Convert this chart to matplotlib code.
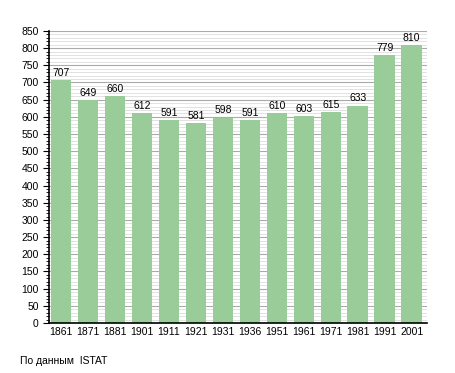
import numpy as np
import matplotlib.pyplot as plt

plt.rcParams['font.family'] = ['Liberation Sans', 'DejaVu Sans']

years = ['1861', '1871', '1881', '1901', '1911', '1921', '1931',
         '1936', '1951', '1961', '1971', '1981', '1991', '2001']
abitanti = [707, 649, 660, 612, 591, 581, 598, 591, 610, 603, 615, 633, 779, 810]

fig = plt.figure(figsize=(4.55, 3.73), dpi=100)
ax = fig.add_axes([0.108, 0.134, 0.83, 0.783])

x = np.arange(len(years))
ax.bar(x + 0.06, abitanti, width=0.76, align='edge', color='#99cc99', zorder=2)
for xi, v in zip(x, abitanti):
    ax.text(xi + 0.44, v + 6, str(v), ha='center', va='bottom', fontsize=7.5)

ax.set_xlim(0, len(years))
ax.set_ylim(0, 850)
ax.set_xticks(x + 0.44)
ax.set_xticklabels(years, fontsize=7.5)
ax.tick_params(axis='x', length=0, pad=3)
ax.set_yticks(np.arange(0, 851, 50))
ax.set_yticks(np.arange(0, 851, 10), minor=True)
ax.tick_params(axis='y', which='major', length=4, labelsize=7.5, direction='out')
ax.tick_params(axis='y', which='minor', length=2, direction='out')
ax.grid(axis='y', which='major', color='#aaaaaa', linewidth=0.8, zorder=0)
ax.grid(axis='y', which='minor', color='#dddddd', linewidth=0.6, zorder=0)
ax.set_axisbelow(True)
for s in ['top', 'right']:
    ax.spines[s].set_visible(False)
ax.spines['left'].set_linewidth(1.2)
ax.spines['bottom'].set_linewidth(1.2)

fig.text(20 / 455, 1 - 361 / 373, 'По данным  ISTAT', fontsize=7.5, va='center')

fig.savefig('out.png', dpi=100)
